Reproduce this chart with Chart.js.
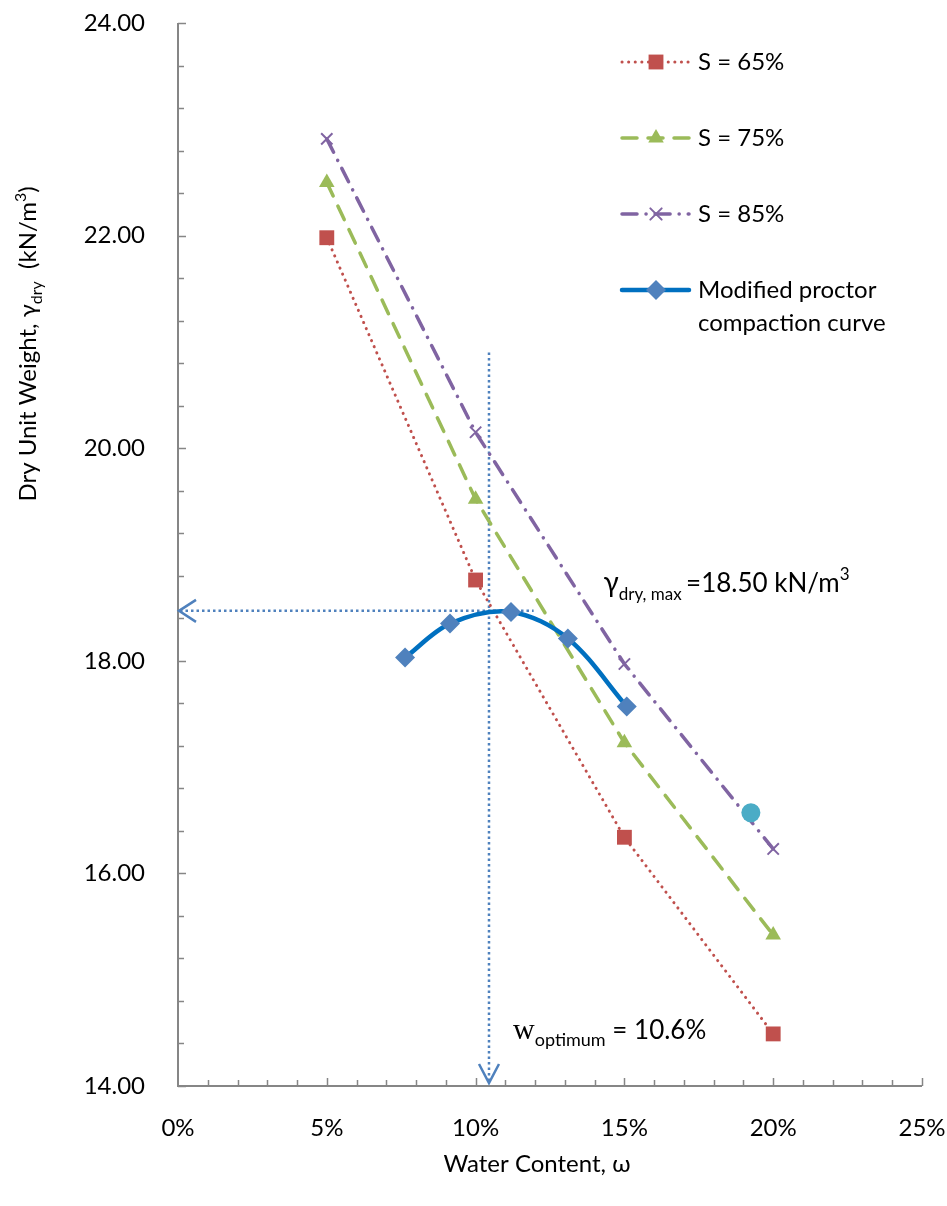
<!DOCTYPE html>
<html>
<head>
<meta charset="utf-8">
<script src="https://cdn.jsdelivr.net/npm/chart.js@4"></script>
<style>
  body { margin: 0; background: #fff; }
  #wrap { width: 947px; height: 1206px; }
</style>
</head>
<body>
<div id="wrap"><canvas id="compactionChart" width="947" height="1206"></canvas></div>
<script>
// water content (%) for the saturation lines
const satWater = [5, 10, 15, 20];
const s65 = [21.98, 18.76, 16.34, 14.49];
const s75 = [22.50, 19.52, 17.23, 15.42];
const s85 = [22.91, 20.15, 17.97, 16.23];

// modified proctor test points
const proctorWater = [7.63, 9.14, 11.19, 13.10, 15.08];
const proctorDry = [18.03, 18.35, 18.46, 18.21, 17.57];

// the lone cyan point
const extraWater = [19.25];
const extraDry = [16.57];

const optWater = 10.45;
const maxDry = 18.47;
const yTicks = [14, 16, 18, 20, 22, 24];
const xTicks = [0, 5, 10, 15, 20, 25];

const FONT = 'Lato, "Open Sans", sans-serif';
const AXIS_GRAY = '#868686';
const ARROW_BLUE = '#4F81BD';

function pts(xs, ys) {
    return xs.map((x, i) => ({ x: x, y: ys[i] }));
}

function drawRuns(ctx, x, y, runs) {
    let cx = x;
    runs.forEach(r => {
        ctx.font = r.f;
        ctx.fillText(r.t, cx, y + (r.dy || 0));
        cx += ctx.measureText(r.t).width;
    });
    return cx - x;
}

function runsWidth(ctx, runs) {
    let w = 0;
    runs.forEach(r => {
        ctx.font = r.f;
        w += ctx.measureText(r.t).width;
    });
    return w;
}

const extrasPlugin = {
    id: 'extras',
    beforeDraw(chart) {
        const ctx = chart.ctx;
        ctx.save();
        ctx.fillStyle = '#fff';
        ctx.fillRect(0, 0, chart.width, chart.height);
        ctx.restore();
    },
    beforeDatasetsDraw(chart) {
        const ctx = chart.ctx;
        const xs = chart.scales.x, ys = chart.scales.y;
        const a = chart.chartArea;
        ctx.save();

        // axes
        ctx.strokeStyle = AXIS_GRAY;
        ctx.lineWidth = 2;
        ctx.beginPath();
        ctx.moveTo(a.left, a.top);
        ctx.lineTo(a.left, a.bottom);
        ctx.lineTo(a.right, a.bottom);
        ctx.stroke();

        // y ticks (inside), minor every 0.4
        ctx.lineWidth = 1.5;
        for (let k = 0; k <= 25; k++) {
            const v = 14 + k * 0.4;
            const py = Math.round(ys.getPixelForValue(v)) + 0.5;
            const len = (k % 5 === 0) ? 8 : 6;
            ctx.beginPath();
            ctx.moveTo(a.left, py);
            ctx.lineTo(a.left + len, py);
            ctx.stroke();
        }
        // x ticks (inside), minor every 1%
        for (let k = 1; k <= 25; k++) {
            const px = Math.round(xs.getPixelForValue(k)) + 0.5;
            const len = (k % 5 === 0) ? 8 : 6;
            ctx.beginPath();
            ctx.moveTo(px, a.bottom);
            ctx.lineTo(px, a.bottom - len);
            ctx.stroke();
        }

        // optimum guide lines
        const ox = xs.getPixelForValue(optWater);
        const oy = ys.getPixelForValue(maxDry);
        ctx.strokeStyle = ARROW_BLUE;
        ctx.lineWidth = 2.5;
        ctx.setLineDash([2.5, 3]);
        ctx.beginPath();
        ctx.moveTo(ox, ys.getPixelForValue(20.9));
        ctx.lineTo(ox, a.bottom - 4);
        ctx.stroke();
        ctx.beginPath();
        ctx.moveTo(a.left + 2, oy);
        ctx.lineTo(xs.getPixelForValue(11.95), oy);
        ctx.stroke();
        ctx.setLineDash([]);
        ctx.lineWidth = 2.5;
        // arrowheads
        ctx.beginPath();
        ctx.moveTo(ox - 10, a.bottom - 22);
        ctx.lineTo(ox, a.bottom - 3);
        ctx.lineTo(ox + 10, a.bottom - 22);
        ctx.stroke();
        ctx.beginPath();
        ctx.moveTo(a.left + 18, oy - 11);
        ctx.lineTo(a.left + 1, oy);
        ctx.lineTo(a.left + 18, oy + 11);
        ctx.stroke();
        ctx.restore();
    },
    afterDraw(chart) {
        const ctx = chart.ctx;
        const xs = chart.scales.x, ys = chart.scales.y;
        const a = chart.chartArea;
        ctx.save();
        ctx.fillStyle = '#000';
        ctx.textBaseline = 'alphabetic';
        ctx.textAlign = 'left';

        // annotations
        drawRuns(ctx, xs.getPixelForValue(14.3), 592, [
            { t: 'γ', f: '28px ' + FONT },
            { t: 'dry, max ', f: '17px ' + FONT, dy: 8 },
            { t: '=18.50 kN/m', f: '26px ' + FONT },
            { t: '3', f: '17px ' + FONT, dy: -12 }
        ]);
        drawRuns(ctx, xs.getPixelForValue(11.26), 1039, [
            { t: 'w', f: '30px "Liberation Serif", serif' },
            { t: 'optimum', f: '18px ' + FONT, dy: 7 },
            { t: ' = 10.6%', f: '26px ' + FONT }
        ]);

        // x axis title
        const xt = [{ t: 'Water Content, ω', f: '24px ' + FONT }];
        const xw = runsWidth(ctx, xt);
        drawRuns(ctx, 537 - xw / 2, 1172, xt);

        // y axis title (rotated)
        const yt = [
            { t: 'Dry Unit Weight, γ', f: '24px ' + FONT },
            { t: 'dry', f: '16px ' + FONT, dy: 6 },
            { t: '  (kN/m', f: '24px ' + FONT },
            { t: '3', f: '16px ' + FONT, dy: -10 },
            { t: ')', f: '24px ' + FONT }
        ];
        const yw = runsWidth(ctx, yt);
        ctx.translate(36, 344);
        ctx.rotate(-Math.PI / 2);
        drawRuns(ctx, -yw / 2, 0, yt);
        ctx.setTransform(1, 0, 0, 1, 0, 0);

        // legend
        const rows = [
            { ds: 0, y: 62, label: ['S = 65%'] },
            { ds: 1, y: 138, label: ['S = 75%'] },
            { ds: 2, y: 214, label: ['S = 85%'] },
            { ds: 3, y: 290, label: ['Modified proctor', 'compaction curve'] }
        ];
        rows.forEach(r => {
            const d = chart.data.datasets[r.ds];
            ctx.save();
            ctx.strokeStyle = d.borderColor;
            ctx.lineWidth = d.borderWidth;
            ctx.lineCap = d.borderCapStyle || 'butt';
            ctx.setLineDash(d.borderDash || []);
            ctx.beginPath();
            ctx.moveTo(622, r.y);
            ctx.lineTo(689, r.y);
            ctx.stroke();
            ctx.setLineDash([]);
            ctx.fillStyle = d.pointBackgroundColor;
            ctx.strokeStyle = d.pointBorderColor;
            ctx.lineWidth = d.pointBorderWidth;
            Chart.helpers.drawPoint(ctx, {
                pointStyle: d.pointStyle,
                radius: d.pointRadius,
                rotation: 0,
                borderWidth: d.pointBorderWidth
            }, 656, r.y);
            ctx.restore();
            ctx.fillStyle = '#000';
            ctx.font = '24px ' + FONT;
            ctx.textBaseline = 'middle';
            r.label.forEach((ln, i) => ctx.fillText(ln, 698, r.y + i * 33));
        });
        ctx.restore();
    }
};

const ctx = document.getElementById('compactionChart').getContext('2d');
const compactionChart = new Chart(ctx, {
    type: 'scatter',
    data: {
        datasets: [
            {
                label: 'S = 65%',
                data: pts(satWater, s65),
                showLine: true,
                borderColor: '#C0504D',
                borderWidth: 3,
                borderDash: [0.1, 6.5],
                borderCapStyle: 'round',
                pointStyle: 'rect',
                pointRadius: 10.5,
                pointBackgroundColor: '#C0504D',
                pointBorderColor: '#C0504D',
                pointBorderWidth: 0,
                order: 4
            },
            {
                label: 'S = 75%',
                data: pts(satWater, s75),
                showLine: true,
                borderColor: '#9BBB59',
                borderWidth: 3.5,
                borderDash: [15, 11],
                borderCapStyle: 'round',
                pointStyle: 'triangle',
                pointRadius: 9,
                pointBackgroundColor: '#9BBB59',
                pointBorderColor: '#9BBB59',
                pointBorderWidth: 0,
                order: 3
            },
            {
                label: 'S = 85%',
                data: pts(satWater, s85),
                showLine: true,
                borderColor: '#8064A2',
                borderWidth: 3.5,
                borderDash: [15, 9, 0.1, 9],
                borderCapStyle: 'round',
                pointStyle: 'crossRot',
                pointRadius: 8,
                pointBackgroundColor: '#8064A2',
                pointBorderColor: '#8064A2',
                pointBorderWidth: 2,
                order: 2
            },
            {
                label: 'Modified proctor compaction curve',
                data: pts(proctorWater, proctorDry),
                showLine: true,
                borderColor: '#0070C0',
                borderWidth: 4.5,
                borderCapStyle: 'round',
                tension: 0.33,
                pointStyle: 'rectRot',
                pointRadius: 10,
                pointBackgroundColor: '#4F81BD',
                pointBorderColor: '#4F81BD',
                pointBorderWidth: 0,
                order: 0
            },
            {
                label: 'point',
                data: pts(extraWater, extraDry),
                showLine: false,
                pointStyle: 'circle',
                pointRadius: 9.5,
                pointBackgroundColor: '#4BACC6',
                pointBorderColor: '#4BACC6',
                pointBorderWidth: 0,
                order: 1
            }
        ]
    },
    options: {
        responsive: false,
        animation: false,
        devicePixelRatio: 1,
        layout: { padding: { left: 0, right: 25, top: 23, bottom: 0 } },
        plugins: {
            legend: { display: false },
            tooltip: { enabled: false }
        },
        scales: {
            x: {
                type: 'linear',
                min: 0,
                max: 25,
                afterBuildTicks: s => { s.ticks = xTicks.map(v => ({ value: v })); },
                afterFit: s => {
                    s.height = 120;
                    s.paddingLeft = 0;
                    s.paddingRight = 0;
                },
                grid: { display: false, drawTicks: false },
                border: { display: false },
                ticks: {
                    padding: 28,
                    color: '#000',
                    font: { family: FONT, size: 24 },
                    callback: v => v + '%'
                }
            },
            y: {
                type: 'linear',
                min: 14,
                max: 24,
                afterBuildTicks: s => { s.ticks = yTicks.map(v => ({ value: v })); },
                afterFit: s => {
                    s.width = 178;
                    s.paddingTop = 0;
                    s.paddingBottom = 0;
                },
                grid: { display: false, drawTicks: false },
                border: { display: false },
                ticks: {
                    padding: 33,
                    color: '#000',
                    font: { family: FONT, size: 24 },
                    callback: v => v.toFixed(2)
                }
            }
        }
    },
    plugins: [extrasPlugin]
});
</script>
</body>
</html>
